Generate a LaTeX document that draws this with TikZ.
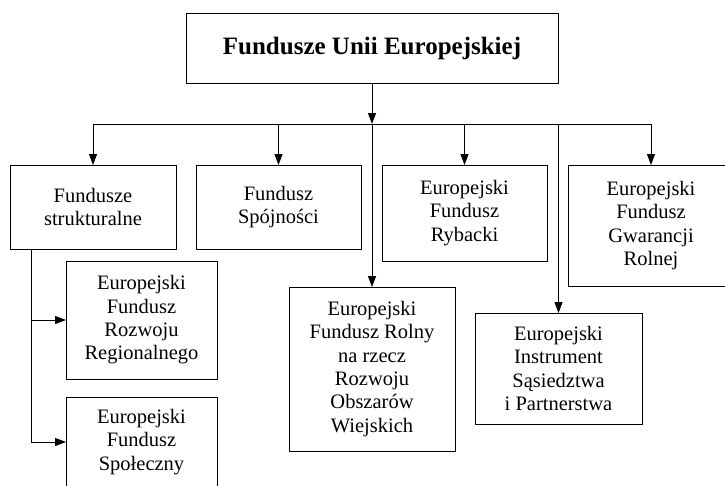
\documentclass[tikz,border=0pt]{standalone}
\usepackage{fontspec}
\setmainfont{Liberation Serif}
\usetikzlibrary{arrows.meta}
\begin{document}
\begin{tikzpicture}[x=1pt, y=-1pt, line width=0.9pt,
    fund/.style={draw, fill=white, align=center, inner sep=0pt, outer sep=0pt, font=\fontsize{20.5}{23.3}\selectfont},
    head/.style={fund, font=\fontsize{25}{30}\selectfont\bfseries},
    arr/.style={-{Triangle[length=11pt, width=8pt]}}]
        \useasboundingbox (0,0) rectangle (725,485);
        \node[head, minimum width=372, minimum height=70] (top) at (372, 48) {Fundusze Unii Europejskiej};
        \node[fund, minimum width=166, minimum height=84] (struk) at (93, 207) {Fundusze\\strukturalne};
        \node[fund, minimum width=165, minimum height=84] (spoj) at (278.5, 207) {Fundusz\\Spójności};
        \node[fund, minimum width=165, minimum height=96] (ryb) at (464.5, 213) {Europejski\\Fundusz\\Rybacki};
        \node[fund, minimum width=166, minimum height=121] (gwar) at (651, 225.5) {Europejski\\Fundusz\\Gwarancji\\Rolnej};
        \node[fund, minimum width=151, minimum height=118] (efrr) at (141.5, 320) {Europejski\\Fundusz\\Rozwoju\\Regionalnego};
        \node[fund, minimum width=151, minimum height=90] (efs) at (141.5, 442) {Europejski\\Fundusz\\Społeczny};
        \node[fund, minimum width=166, minimum height=164] (efrrow) at (372, 369) {Europejski\\Fundusz Rolny\\na rzecz\\Rozwoju\\Obszarów\\Wiejskich};
        \node[fund, minimum width=167, minimum height=111] (eisip) at (558.5, 368.5) {Europejski\\Instrument\\Sąsiedztwa\\i Partnerstwa};
        \coordinate (bus) at (372, 124);
        \coordinate (sk) at (31, 249);
        \draw[arr] (top.south) -- (bus);
        \draw (struk.north |- bus) -- (gwar.north |- bus);
        \draw[arr] (struk.north |- bus) -- (struk.north);
        \draw[arr] (spoj.north |- bus) -- (spoj.north);
        \draw[arr] (ryb.north |- bus) -- (ryb.north);
        \draw[arr] (gwar.north |- bus) -- (gwar.north);
        \draw[arr] (bus) -- (efrrow.north);
        \draw[arr] (eisip.north |- bus) -- (eisip.north);
        \draw[arr] (sk) |- (efrr.west);
        \draw[arr] (sk) |- (efs.west);
    \end{tikzpicture}
\end{document}
